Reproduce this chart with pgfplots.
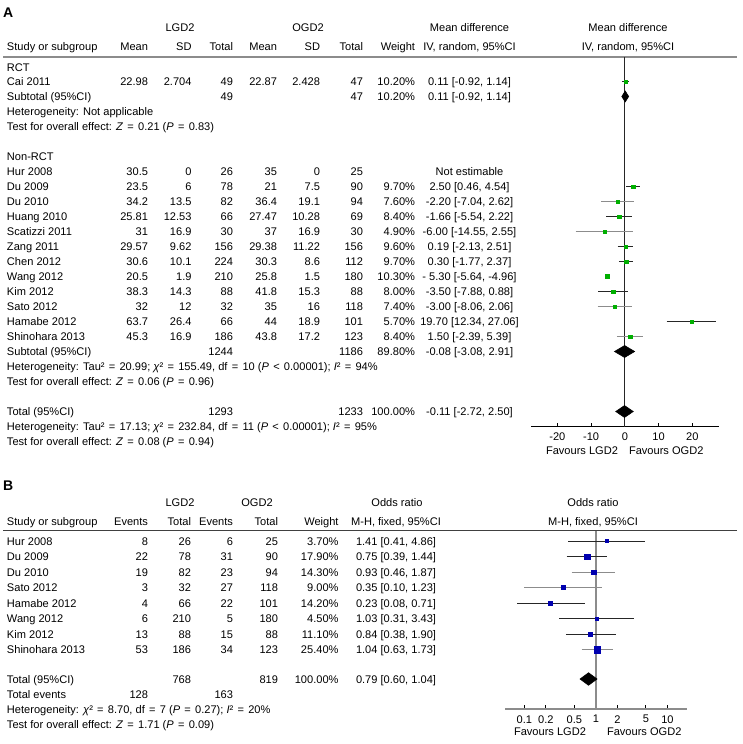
\documentclass[border=0pt]{standalone}
\usepackage{pgfplots}
\pgfplotsset{compat=1.18}
\usepackage{fontspec}
\setmainfont{Liberation Sans}
\definecolor{fgreen}{RGB}{0,175,0}
\definecolor{fblue}{RGB}{0,0,175}
\newcommand\fs{\fontsize{8.3}{9.8}\selectfont}
\newcommand\eq{\hspace{3.2pt}=\hspace{3.2pt}}
\newcommand\lt{\hspace{3.2pt}<\hspace{3.2pt}}
\newcommand\TL[3]{\node[anchor=base west] at (#1,{#2+4}) {#3};}
\newcommand\TR[3]{\node[anchor=base east] at (#1,{#2+4}) {#3};}
\newcommand\TC[3]{\node[anchor=base] at (#1,{#2+4}) {#3};}
% A row: y name m1 s1 t1 m2 s2 t2 weight
\newcommand\rowA[9]{\TL{7}{#1}{#2}\TR{148}{#1}{#3}\TR{191.5}{#1}{#4}\TR{233}{#1}{#5}\TR{277}{#1}{#6}\TR{320}{#1}{#7}\TR{363}{#1}{#8}\TR{415}{#1}{#9}}
% B row: y name e1 t1 e2 t2 weight or
\newcommand\rowB[8]{\TL{7}{#1}{#2}\TR{148}{#1}{#3}\TR{191}{#1}{#4}\TR{233}{#1}{#5}\TR{278}{#1}{#6}\TR{338.5}{#1}{#7}\TC{396}{#1}{#8}}
\newcommand\ci[7]{% color lo hi y est halfsize markcolor
  \addplot[#1, line width=0.75pt] coordinates {(#2,-#4) (#3,-#4)};
  \addplot[only marks, mark=square*, mark size=#6pt, mark options={draw=#7, fill=#7, line width=0.1pt}] coordinates {(#5,-#4)};}
\begin{document}
\fs
\begin{tikzpicture}
\begin{scope}[x=0.75pt,y=-0.75pt, every node/.style={inner sep=0pt, outer sep=0pt, font=\fs}]
\path (0,0) rectangle (743,744);
% ---------------- Panel A ----------------
\node[anchor=base west, font=\fontsize{10.5}{12}\selectfont\bfseries] at (3,17) {A};
\TC{180}{27}{LGD2}\TC{308}{27}{OGD2}\TC{469.5}{27}{Mean difference}\TC{628}{27}{Mean difference}
\rowA{46}{Study or subgroup}{Mean}{SD}{Total}{Mean}{SD}{Total}{Weight}
\TC{469.5}{46}{IV, random, 95\%CI}\TC{628}{46}{IV, random, 95\%CI}
\draw[black!45, line width=1.5] (3,57) -- (737,57);
\TL{7}{67.5}{RCT}
\rowA{81.5}{Cai 2011}{22.98}{2.704}{49}{22.87}{2.428}{47}{10.20\%}\TC{469.5}{81.5}{0.11 [-0.92, 1.14]}
\rowA{96.5}{Subtotal (95\%CI)}{}{}{49}{}{}{47}{10.20\%}\TC{469.5}{96.5}{0.11 [-0.92, 1.14]}
\TL{7}{111.5}{Heterogeneity: Not applicable}
\TL{7}{126.5}{Test for overall effect: \textit{Z}\eq 0.21 (\textit{P}\eq 0.83)}
\TL{7}{156.5}{Non-RCT}
\rowA{171.5}{Hur 2008}{30.5}{0}{26}{35}{0}{25}{}\TC{469.5}{171.5}{Not estimable}
\rowA{186.5}{Du 2009}{23.5}{6}{78}{21}{7.5}{90}{9.70\%}\TC{469.5}{186.5}{2.50 [0.46, 4.54]}
\rowA{201.5}{Du 2010}{34.2}{13.5}{82}{36.4}{19.1}{94}{7.60\%}\TC{469.5}{201.5}{-2.20 [-7.04, 2.62]}
\rowA{216.5}{Huang 2010}{25.81}{12.53}{66}{27.47}{10.28}{69}{8.40\%}\TC{469.5}{216.5}{-1.66 [-5.54, 2.22]}
\rowA{231.5}{Scatizzi 2011}{31}{16.9}{30}{37}{16.9}{30}{4.90\%}\TC{469.5}{231.5}{-6.00 [-14.55, 2.55]}
\rowA{246.5}{Zang 2011}{29.57}{9.62}{156}{29.38}{11.22}{156}{9.60\%}\TC{469.5}{246.5}{0.19 [-2.13, 2.51]}
\rowA{261.5}{Chen 2012}{30.6}{10.1}{224}{30.3}{8.6}{112}{9.70\%}\TC{469.5}{261.5}{0.30 [-1.77, 2.37]}
\rowA{276.5}{Wang 2012}{20.5}{1.9}{210}{25.8}{1.5}{180}{10.30\%}\TC{469.5}{276.5}{- 5.30 [-5.64, -4.96]}
\rowA{291.5}{Kim 2012}{38.3}{14.3}{88}{41.8}{15.3}{88}{8.00\%}\TC{469.5}{291.5}{-3.50 [-7.88, 0.88]}
\rowA{306.5}{Sato 2012}{32}{12}{32}{35}{16}{118}{7.40\%}\TC{469.5}{306.5}{-3.00 [-8.06, 2.06]}
\rowA{321.5}{Hamabe 2012}{63.7}{26.4}{66}{44}{18.9}{101}{5.70\%}\TC{469.5}{321.5}{19.70 [12.34, 27.06]}
\rowA{336.5}{Shinohara 2013}{45.3}{16.9}{186}{43.8}{17.2}{123}{8.40\%}\TC{469.5}{336.5}{1.50 [-2.39, 5.39]}
\rowA{351.5}{Subtotal (95\%CI)}{}{}{1244}{}{}{1186}{89.80\%}\TC{469.5}{351.5}{-0.08 [-3.08, 2.91]}
\TL{7}{366.5}{Heterogeneity: Tau²\eq 20.99; \textit{χ}²\eq 155.49, df\eq 10 (\textit{P}\lt 0.00001); \textit{I}²\eq 94\%}
\TL{7}{381.5}{Test for overall effect: \textit{Z}\eq 0.06 (\textit{P}\eq 0.96)}
\rowA{411.5}{Total (95\%CI)}{}{}{1293}{}{}{1233}{100.00\%}\TC{469.5}{411.5}{-0.11 [-2.72, 2.50]}
\TL{7}{426.5}{Heterogeneity: Tau²\eq 17.13; \textit{χ}²\eq 232.84, df\eq 11 (\textit{P}\lt 0.00001); \textit{I}²\eq 95\%}
\TL{7}{441.5}{Test for overall effect: \textit{Z}\eq 0.08 (\textit{P}\eq 0.94)}
\TR{618}{450.5}{Favours LGD2}\TL{629}{450.5}{Favours OGD2}
% ---------------- Panel B ----------------
\node[anchor=base west, font=\fontsize{10.5}{12}\selectfont\bfseries] at (3,490) {B};
\TC{180}{502}{LGD2}\TC{257}{502}{OGD2}\TC{397}{502}{Odds ratio}\TC{593}{502}{Odds ratio}
\rowB{521.5}{Study or subgroup}{Events}{Total}{Events}{Total}{Weight}{M-H, fixed, 95\%CI}
\TC{593}{521.5}{M-H, fixed, 95\%CI}
\draw[black!75, line width=0.9] (3,530.5) -- (737,530.5);
\rowB{541}{Hur 2008}{8}{26}{6}{25}{3.70\%}{1.41 [0.41, 4.86]}
\rowB{556.5}{Du 2009}{22}{78}{31}{90}{17.90\%}{0.75 [0.39, 1.44]}
\rowB{572}{Du 2010}{19}{82}{23}{94}{14.30\%}{0.93 [0.46, 1.87]}
\rowB{587.5}{Sato 2012}{3}{32}{27}{118}{9.00\%}{0.35 [0.10, 1.23]}
\rowB{603}{Hamabe 2012}{4}{66}{22}{101}{14.20\%}{0.23 [0.08, 0.71]}
\rowB{618.5}{Wang 2012}{6}{210}{5}{180}{4.50\%}{1.03 [0.31, 3.43]}
\rowB{634}{Kim 2012}{13}{88}{15}{88}{11.10\%}{0.84 [0.38, 1.90]}
\rowB{649.5}{Shinohara 2013}{53}{186}{34}{123}{25.40\%}{1.04 [0.63, 1.73]}
\rowB{679}{Total (95\%CI)}{}{768}{}{819}{100.00\%}{0.79 [0.60, 1.04]}
\rowB{694}{Total events}{128}{}{163}{}{}{}
\TL{7}{709}{Heterogeneity: \textit{χ}²\eq 8.70, df\eq 7 (\textit{P}\eq 0.27); \textit{I}²\eq 20\%}
\TL{7}{724}{Test for overall effect: \textit{Z}\eq 1.71 (\textit{P}\eq 0.09)}
\TR{586}{731}{Favours LGD2}\TL{607}{731}{Favours OGD2}
\end{scope}
% ---------- Forest plot A ----------
\begin{axis}[at={(398.25pt,-320.03pt)}, anchor=south west, scale only axis,
  width=140.8pt, height=277.3pt,
  xmin=-27.8, xmax=27.8, ymin=-426.7, ymax=-57,
  axis x line=bottom, axis y line=none, x axis line style={-, black, line width=0.75pt},
  xtick={-20,-10,0,10,20}, tick align=inside, major tick length=3pt,
  xtick style={black, line width=0.6pt}, clip=false,
  /pgf/number format/assume math mode=true,
  xticklabel style={font=\fs, yshift=-1.5pt}]
\addplot[black!85, line width=0.75pt] coordinates {(0,-57) (0,-426.7)};
\ci{black!85}{-0.92}{1.14}{81.5}{0.11}{1.1}{fgreen}
\addplot[fill=black, draw=black] coordinates {(-0.92,-96.5) (0.11,-91) (1.14,-96.5) (0.11,-102)} --cycle;
\ci{black!85}{0.46}{4.54}{186.5}{2.50}{1.4}{fgreen}
\ci{black!45}{-7.04}{2.62}{201.5}{-2.20}{1.3}{fgreen}
\ci{black!85}{-5.54}{2.22}{216.5}{-1.66}{1.3}{fgreen}
\ci{black!45}{-14.55}{2.55}{231.5}{-6.00}{1.1}{fgreen}
\ci{black!85}{-2.13}{2.51}{246.5}{0.19}{1.4}{fgreen}
\ci{black!85}{-1.77}{2.37}{261.5}{0.30}{1.4}{fgreen}
\ci{black!85}{-5.64}{-4.96}{276.5}{-5.30}{1.5}{fgreen}
\ci{black!85}{-7.88}{0.88}{291.5}{-3.50}{1.3}{fgreen}
\ci{black!45}{-8.06}{2.06}{306.5}{-3.00}{1.3}{fgreen}
\ci{black!85}{12.34}{27.06}{321.5}{19.70}{1.1}{fgreen}
\ci{black!45}{-2.39}{5.39}{336.5}{1.50}{1.3}{fgreen}
\addplot[fill=black, draw=black] coordinates {(-3.08,-351.5) (-0.08,-345.5) (2.91,-351.5) (-0.08,-357.5)} --cycle;
\addplot[fill=black, draw=black] coordinates {(-2.72,-411.5) (-0.11,-405.5) (2.50,-411.5) (-0.11,-417.5)} --cycle;
\end{axis}
% ---------- Forest plot B ----------
\begin{axis}[at={(378.75pt,-531.53pt)}, anchor=south west, scale only axis,
  width=136.3pt, height=133.65pt, xmode=log,
  xmin=0.0537, xmax=18.62, ymin=-708.7, ymax=-530.5,
  axis x line=bottom, axis y line=none, x axis line style={-, black!45, line width=1.2pt},
  xtick={0.1,0.2,0.5,1,2,5,10}, xticklabels={0.1,0.2,0.5,1,2,5,10},
  tick align=inside, major tick length=3pt, minor tick num=0,
  xtick style={black, line width=0.6pt}, clip=false,
  xticklabel style={font=\fs, yshift=-2pt}]
\addplot[black!45, line width=1.2pt] coordinates {(1,-530.5) (1,-708.7)};
\ci{black!85}{0.41}{4.86}{541}{1.41}{1.1}{fblue}
\ci{black!85}{0.39}{1.44}{556.5}{0.75}{2.1}{fblue}
\ci{black!45}{0.46}{1.87}{572}{0.93}{1.7}{fblue}
\ci{black!45}{0.10}{1.23}{587.5}{0.35}{1.5}{fblue}
\ci{black!85}{0.08}{0.71}{603}{0.23}{1.7}{fblue}
\ci{black!85}{0.31}{3.43}{618.5}{1.03}{1.1}{fblue}
\ci{black!85}{0.38}{1.90}{634}{0.84}{1.5}{fblue}
\ci{black!45}{0.63}{1.73}{649.5}{1.04}{2.5}{fblue}
\addplot[fill=black, draw=black] coordinates {(0.60,-679) (0.79,-672.7) (1.04,-679) (0.79,-685.3)} --cycle;
\end{axis}
\end{tikzpicture}
\end{document}
